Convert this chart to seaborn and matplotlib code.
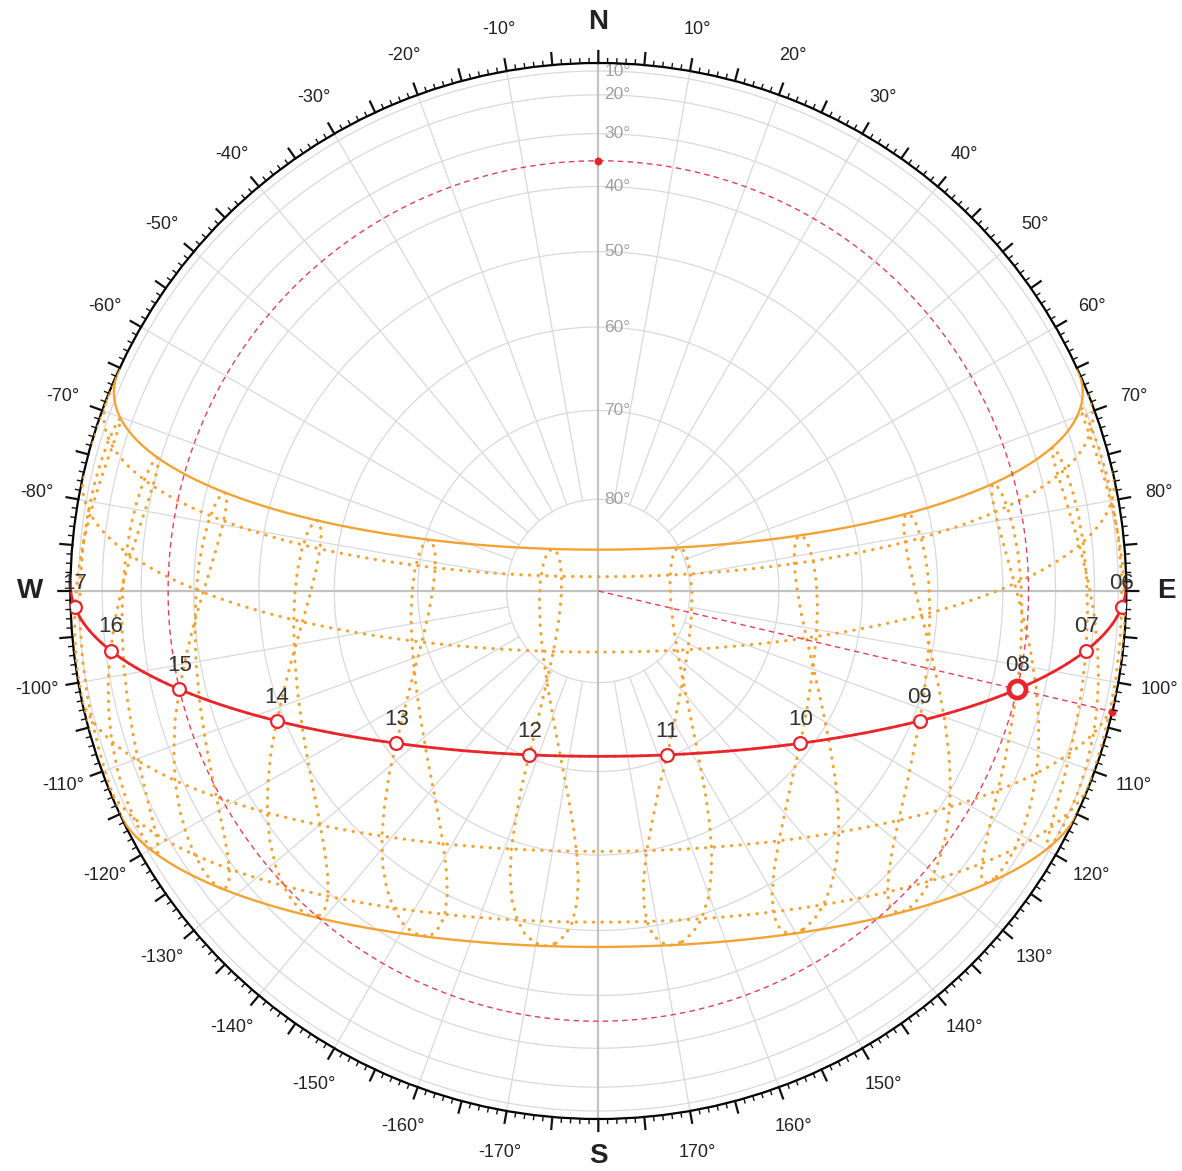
import numpy as np
import pandas as pd
import seaborn as sns
import matplotlib.pyplot as plt
from matplotlib.transforms import offset_copy

# site and moment shown on the chart
LATITUDE = 18.95            # deg N
CLOCK_TO_SOLAR_MIN = 23.3   # minutes added to clock time (longitude / time zone)
TODAY = "Sep 21"
NOW_HOUR = 8.0

# sun table: 1st, 11th and 21st of each month
MONTHS = ["Jan", "Feb", "Mar", "Apr", "May", "Jun", "Jul", "Aug", "Sep", "Oct", "Nov", "Dec"]
DATES = [f"{m} {d}" for m in MONTHS for d in (1, 11, 21)]
DECLINATION = [-23.0, -21.8, -20.0, -17.2, -14.3, -10.9, -7.8, -4.0, 0.0,
               4.4, 8.2, 11.8, 15.0, 17.8, 20.1, 22.0, 23.1, 23.44,
               23.1, 22.1, 20.5, 18.1, 15.4, 12.3, 8.4, 4.6, 0.7,
               -3.0, -6.9, -10.6, -14.3, -17.4, -19.9, -21.8, -23.0, -23.44]
EQ_OF_TIME = [-3.2, -7.7, -11.2, -13.6, -14.3, -13.8, -12.5, -10.2, -7.3,
              -4.0, -1.2, 1.2, 2.9, 3.6, 3.5, 2.3, 0.6, -1.5,
              -3.6, -5.3, -6.3, -6.3, -5.3, -3.3, -0.1, 3.2, 6.7,
              10.2, 13.0, 15.3, 16.4, 16.0, 14.2, 11.2, 7.0, 2.1]

HOUR_LABELS = ["06", "07", "08", "09", "10", "11", "12", "13", "14", "15", "16", "17"]
ANALEMMA_HOURS = list(range(5, 20))
DAY_PATHS = ["Jul 21", "Aug 21", "Sep 21", "Oct 21", "Nov 21"]
SOLSTICES = ["Jun 21", "Dec 21"]
ALTITUDE_RINGS = [10, 20, 30, 40, 50, 60, 70, 80]
AZIMUTH_TICKS = list(range(0, 360, 5))
COMPASS = {0: "N", 90: "E", 180: "S", 270: "W"}

RED = "#e8242c"
DASH_RED = "#e0405c"
ORANGE = "#f2a334"
GRID = "#d9d9d9"
R_PX = 528.0   # plot radius in pixels, for tick lengths

plt.rcParams["font.family"] = ["Liberation Sans", "DejaVu Sans"]

sun = pd.DataFrame({"date": DATES, "dec": DECLINATION, "eot": EQ_OF_TIME}).set_index("date")


def sun_pos(dec, ha):
    d, h, p = np.radians(dec), np.radians(ha), np.radians(LATITUDE)
    east = -np.cos(d) * np.sin(h)
    north = np.cos(p) * np.sin(d) - np.sin(p) * np.cos(d) * np.cos(h)
    up = np.sin(p) * np.sin(d) + np.cos(p) * np.cos(d) * np.cos(h)
    return np.arctan2(east, north), np.hypot(east, north), up


def hour_angle(clock, eot):
    return 15.0 * (clock + (CLOCK_TO_SOLAR_MIN + np.asarray(eot)) / 60.0 - 12.0)


def day_path(dec):
    c = -np.tan(np.radians(LATITUDE)) * np.tan(np.radians(dec))
    h0 = np.degrees(np.arccos(np.clip(c, -1, 1)))
    theta, r, _ = sun_pos(dec, np.linspace(-h0, h0, 301))
    return theta, r


def visible_runs(up):
    vis = up > 0
    n = len(up)
    if vis.all():
        return [list(range(n)) + [0]]
    start = int(np.argmin(vis))
    runs, cur = [], []
    for i in (np.arange(n) + start) % n:
        if vis[i]:
            cur.append(i)
        elif cur:
            runs.append(cur)
            cur = []
    if cur:
        runs.append(cur)
    return [r for r in runs if len(r) > 1]


# dotted day paths and hourly analemmas, solid solstice paths
dotted, solid = [], []
for date in DAY_PATHS:
    theta, r = day_path(sun.loc[date, "dec"])
    dotted.append(pd.DataFrame({"theta": theta, "r": r, "curve": "day " + date}))
for date in SOLSTICES:
    theta, r = day_path(sun.loc[date, "dec"])
    solid.append(pd.DataFrame({"theta": theta, "r": r, "curve": "day " + date}))

for hr in ANALEMMA_HOURS:
    theta, r, up = sun_pos(sun["dec"].values, hour_angle(hr, sun["eot"].values))
    for k, idx in enumerate(visible_runs(up)):
        dotted.append(pd.DataFrame({"theta": theta[idx], "r": r[idx], "curve": f"h{hr}-{k}"}))

dotted = pd.concat(dotted, ignore_index=True)
solid = pd.concat(solid, ignore_index=True)

today = sun.loc[TODAY]
path_theta, path_r = day_path(today["dec"])
hours = np.array([int(h) for h in HOUR_LABELS], dtype=float)
mk_theta, mk_r, _ = sun_pos(today["dec"], hour_angle(hours, today["eot"]))
now_theta, now_r, _ = sun_pos(today["dec"], hour_angle(NOW_HOUR, today["eot"]))

fig = plt.figure(figsize=(11.82, 11.71), dpi=100)
ax = fig.add_axes([0.0595, 0.0444, 0.8934, 0.9018], projection="polar")
ax.set_theta_zero_location("N")
ax.set_theta_direction(-1)

# grid: altitude rings, azimuth spokes, compass cross
ring = np.linspace(0, 2 * np.pi, 721)
for alt in ALTITUDE_RINGS:
    ax.plot(ring, np.full_like(ring, np.cos(np.radians(alt))), color=GRID, lw=0.9, zorder=1)
r80 = np.cos(np.radians(80))
for a in range(0, 360, 10):
    if a % 90:
        ax.plot([np.radians(a)] * 2, [r80, 1], color=GRID, lw=0.9, zorder=1)
    else:
        ax.plot([np.radians(a)] * 2, [0, 1], color="#c2c2c2", lw=1.6, zorder=1.5)

sns.lineplot(data=dotted, x="theta", y="r", units="curve", estimator=None, sort=False,
             color=ORANGE, lw=2.3, linestyle=(0, (0.1, 2.6)), dash_capstyle="round",
             ax=ax, zorder=3)
sns.lineplot(data=solid, x="theta", y="r", units="curve", estimator=None, sort=False,
             color=ORANGE, lw=1.7, ax=ax, zorder=3.5)

# current sun: altitude circle and azimuth line
ax.plot(ring, np.full_like(ring, now_r), color=DASH_RED, lw=1.0, dashes=(4, 3), zorder=4)
ax.plot([now_theta, now_theta], [0, 1], color=DASH_RED, lw=1.0, dashes=(4, 3), zorder=4)
ax.scatter([0, now_theta], [now_r, 1], s=22, color=RED, zorder=7, clip_on=False)

sns.lineplot(x=path_theta, y=path_r, sort=False, estimator=None, color=RED, lw=2.0,
             ax=ax, zorder=5)
sns.scatterplot(x=mk_theta, y=mk_r, s=85, color="white", edgecolor=RED, linewidth=1.6,
                ax=ax, zorder=6)
sns.scatterplot(x=[now_theta], y=[now_r], s=150, color="white", edgecolor=RED,
                linewidth=3.4, ax=ax, zorder=6.5)

lab_tr = offset_copy(ax.transData, fig=fig, x=0, y=17, units="points")
for lab, t, r in zip(HOUR_LABELS, mk_theta, mk_r):
    ax.text(t, r, lab, transform=lab_tr, ha="center", va="center", fontsize=16,
            color="#333333", clip_on=True, zorder=8)

alt_tr = offset_copy(ax.transData, fig=fig, x=4.5, y=0, units="points")
for alt in ALTITUDE_RINGS:
    ax.text(0, np.cos(np.radians(alt)), f"{alt}°", transform=alt_tr, ha="left",
            va="center", fontsize=12.5, color="#a0a0a0", zorder=2)

# compass scale: 1 degree ticks, longer every 5 degrees, drawn outside the rim
deg = np.arange(360)
tick_len = np.where(deg % 5 == 0, 12.0, 4.5) / R_PX
for major, lw in ((True, 1.6), (False, 1.0)):
    sel = (deg % 5 == 0) == major
    th = np.radians(deg[sel])
    tt = np.column_stack([th, th, np.full_like(th, np.nan)]).ravel()
    rr = np.column_stack([np.ones_like(th), 1 + tick_len[sel], np.full_like(th, np.nan)]).ravel()
    ax.plot(tt, rr, color="#111111", lw=lw, clip_on=False, zorder=9)

labels = []
for a in AZIMUTH_TICKS:
    if a % 10 or a in COMPASS:
        labels.append("")
    else:
        labels.append(f"{a if a < 180 else a - 360}°")
ax.set_xticks(np.radians(AZIMUTH_TICKS))
ax.set_xticklabels(labels)
ax.tick_params(axis="x", which="both", length=0, pad=23, labelsize=13,
               labelcolor="#222222")

# cardinal letters
for a, (dx, dy, va) in zip(COMPASS, [(0, 29.5, "center"), (29, 0, "center"),
                                     (0, -36, "bottom"), (-29, 0, "center")]):
    ax.annotate(COMPASS[a], (np.radians(a), 1), xytext=(dx, dy), textcoords="offset points",
                ha="center", va=va, fontsize=20, fontweight="bold", color="#222222",
                annotation_clip=False)

ax.set_yticks([])
ax.grid(False)
ax.set_ylim(0, 1)
ax.spines["polar"].set_color("black")
ax.spines["polar"].set_linewidth(1.6)
ax.set_xlabel("")
ax.set_ylabel("")

fig.savefig("out.png", dpi=100)
